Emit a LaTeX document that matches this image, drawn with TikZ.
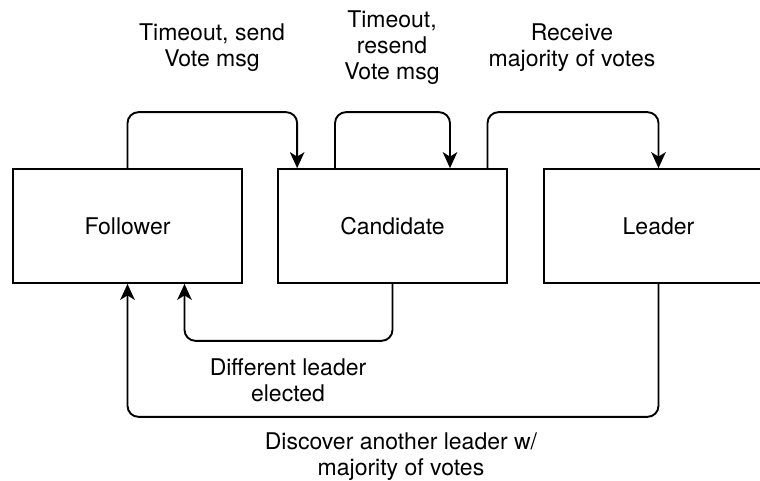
\documentclass[tikz,border=0pt]{standalone}
\usepackage{fontspec}
\setmainfont{TeX Gyre Heros}
\usetikzlibrary{arrows.meta}

% fixed-height strut so every text line sits on a 26pt grid
\newcommand\lnstrut{\rule[-7pt]{0pt}{19pt}}

\begin{document}
\begin{tikzpicture}[x=1pt, y=-1pt,
  state/.style={draw, line width=1.7pt, minimum width=229pt, minimum height=114pt,
                inner sep=0pt, font=\fontsize{23}{26}\selectfont},
  arr/.style={draw, line width=1.9pt, rounded corners=11pt,
              -{Stealth[length=16pt, width=14.5pt, inset=4.5pt]}},
  lbl/.style={align=center, inner sep=0pt, anchor=north,
              font=\fontsize{23}{26}\selectfont}]

  % canvas
  \fill[white] (0,0) rectangle (760,480);
  \useasboundingbox (0,0) rectangle (760,480);

  % states
  \node[state] (fol) at (127.5,226) {Follower};
  \node[state] (can) at (392.5,226) {Candidate};
  \node[state] (lea) at (658.5,226) {Leader};

  % transitions above the states
  \draw[arr] (fol.north) -- ++(0,-56) -| ([xshift=20pt]can.north west);
  \draw[arr] ([xshift=-57.5pt]can.north) -- ++(0,-56) -| ([xshift=57.5pt]can.north);
  \draw[arr] ([xshift=95pt]can.north) -- ++(0,-56) -| (lea.north);

  % transitions below the states
  \draw[arr] (can.south) -- ++(0,57) -| ([xshift=57pt]fol.south);
  \draw[arr] (lea.south) -- ++(0,133) -| (fol.south);

  % transition labels
  \node[lbl] (t1) at (212,24)  {\lnstrut Timeout, send\\\lnstrut Vote msg};
  \node[lbl] (t2) at (392,11)  {\lnstrut Timeout,\\\lnstrut resend\\\lnstrut Vote msg};
  \node[lbl] (t3) at (572,24)  {\lnstrut Receive\\\lnstrut majority of votes};
  \node[lbl] (t4) at (288,358) {\lnstrut Different leader\\\lnstrut elected};
  \node[lbl] (t5) at (401,433) {\lnstrut Discover another leader w/\\\lnstrut majority of votes};
\end{tikzpicture}
\end{document}
